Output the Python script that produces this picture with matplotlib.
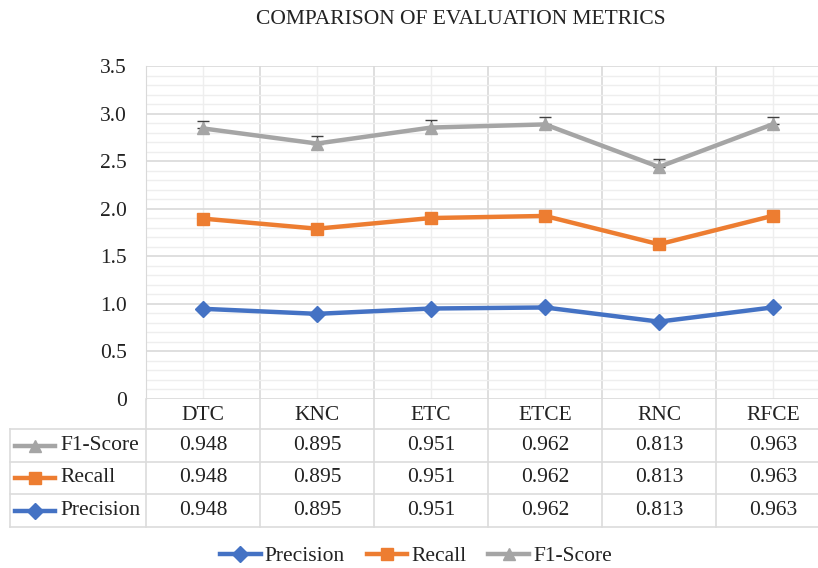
import numpy as np
import matplotlib.pyplot as plt
from matplotlib.lines import Line2D

plt.rcParams['font.family'] = ['Liberation Serif', 'DejaVu Serif']

modelos = ['DTC', 'KNC', 'ETC', 'ETCE', 'RNC', 'RFCE']
precision = [0.948, 0.895, 0.951, 0.962, 0.813, 0.963]
recall = [0.948, 0.895, 0.951, 0.962, 0.813, 0.963]
f1_score = [0.948, 0.895, 0.951, 0.962, 0.813, 0.963]
erro_f1 = 0.08

series = [('Precision', precision, '#4472C4', 'D', 8),
          ('Recall', recall, '#ED7D31', 's', 8),
          ('F1-Score', f1_score, '#A5A5A5', '^', 9)]

W, H = 818, 568
fig = plt.figure(figsize=(W/100, H/100), dpi=100)

# area do grafico (linhas empilhadas)
x0, x1 = 146, 830
ytop, ybot = 66, 399
ax = fig.add_axes([x0/W, 1 - ybot/H, (x1 - x0)/W, (ybot - ytop)/H])
x = np.arange(len(modelos))
acumulado = np.zeros(len(modelos))
for nome, vals, cor, mk, ms in series:
    acumulado = acumulado + np.array(vals)
    ax.plot(x, acumulado, color=cor, lw=3.2, marker=mk, ms=ms, zorder=3,
            solid_capstyle='round')
    if nome == 'F1-Score':
        ax.errorbar(x, acumulado, yerr=[np.zeros(len(x)), np.full(len(x), erro_f1)],
                    fmt='none', ecolor='#404040', elinewidth=1, capsize=4, zorder=2)

ax.set_xlim(-0.5, len(modelos) - 0.5)
ax.set_ylim(0, 3.5)
ax.set_yticks(np.arange(0, 3.51, 0.5))
ax.set_yticklabels(['0'] + [f'{v:.1f}' for v in np.arange(0.5, 3.51, 0.5)])
ax.set_yticks(np.arange(0, 3.5, 0.1), minor=True)
ax.set_xticks(np.arange(-0.5, len(modelos), 1))
ax.set_xticks(x, minor=True)
ax.set_xticklabels([])
ax.tick_params(axis='both', which='both', length=0)
ax.tick_params(axis='y', labelsize=15.5, pad=14, colors='#222222')
ax.grid(which='major', color='#d9d9d9', lw=1.2)
ax.grid(which='minor', color='#eeeeee', lw=1)
for s in ['top', 'right', 'bottom']:
    ax.spines[s].set_visible(False)
ax.spines['left'].set_color('#d9d9d9')
ax.set_axisbelow(True)

fig.text(461/W, 1 - 20/H, 'COMPARISON OF EVALUATION METRICS', ha='center', va='center',
         fontsize=15.5, color='#222222')

# tabela de dados embaixo do grafico
tab = fig.add_axes([x0/W, 1 - 527/H, (x1 - x0)/W, (527 - ybot)/H])
tab.set_xlim(-0.5, len(modelos) - 0.5)
tab.set_ylim(128, 0)
tab.axis('off')
larg = (x1 - x0) / len(modelos)
xesq = -0.5 - (x0 - 10) / larg
linhas_y = [30, 63, 95, 128]
for yy in linhas_y:
    tab.plot([xesq, len(modelos) - 0.5], [yy, yy], color='#dcdcdc', lw=1.2, clip_on=False)
tab.plot([xesq, xesq], [30, 128], color='#dcdcdc', lw=1.2, clip_on=False)
for b in np.arange(-0.5, len(modelos), 1):
    tab.plot([b, b], [0, 128], color='#dcdcdc', lw=1.2, clip_on=False)

for i, m in enumerate(modelos):
    tab.text(i, 16, m, ha='center', va='center', fontsize=15.5, color='#222222')

linhas_tab = [series[2], series[1], series[0]]
for j, (nome, vals, cor, mk, ms) in enumerate(linhas_tab):
    yc = (linhas_y[j] + linhas_y[j + 1]) / 2
    for i, v in enumerate(vals):
        tab.text(i, yc, f'{v:.3f}', ha='center', va='center', fontsize=15.5, color='#222222')
    kx = xesq + np.array([5, 45]) / larg
    tab.plot(kx, [yc, yc], color=cor, lw=3.2, clip_on=False)
    tab.plot([kx.mean()], [yc], color=cor, marker=mk, ms=ms, clip_on=False)
    tab.text(xesq + 50 / larg, yc, nome, ha='left', va='center', fontsize=15.5, color='#222222')

handles = [Line2D([], [], color=c, lw=3.2, marker=mk, ms=ms) for _, _, c, mk, ms in series]
fig.legend(handles, [s[0] for s in series], loc='center', bbox_to_anchor=(416/W, 1 - 556/H),
           ncol=3, frameon=False, fontsize=15.5, handlelength=1.9, handletextpad=0.2,
           columnspacing=1.0, labelcolor='#222222')

fig.savefig('out.png', dpi=100)
